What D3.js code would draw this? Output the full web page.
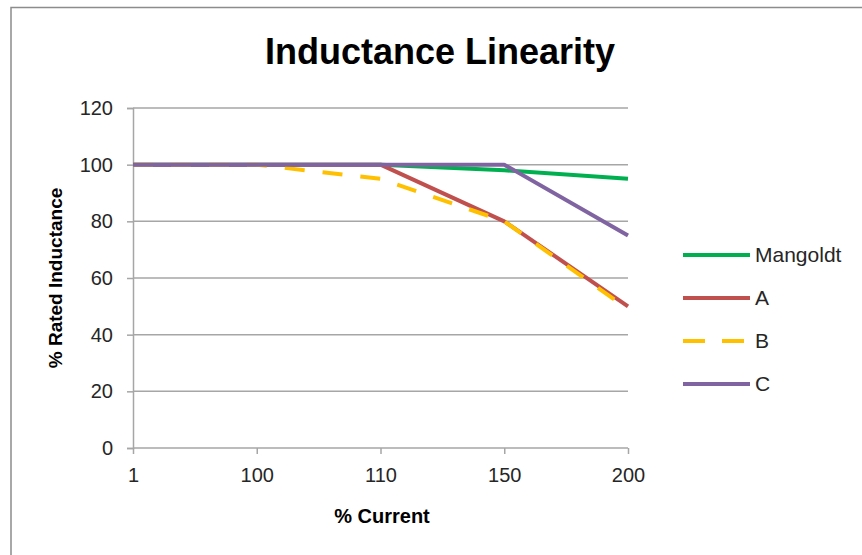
<!DOCTYPE html>
<html>
<head>
<meta charset="utf-8">
<script src="https://cdn.jsdelivr.net/npm/d3@7"></script>
<style>
  html, body { margin: 0; padding: 0; background: #fff; }
  svg { display: block; font-family: "Liberation Sans", Arial, sans-serif; }
</style>
</head>
<body>
<div id="chart"></div>
<script>
// data
const categories = ["1", "100", "110", "150", "200"];
const mangoldt = [100, 100, 100, 98, 95];
const seriesA = [100, 100, 100, 80, 50];
const seriesB = [100, 100, 95, 80, 49];
const seriesC = [100, 100, 100, 100, 75];
const yTicks = [0, 20, 40, 60, 80, 100, 120];

const series = [
  { name: "Mangoldt", values: mangoldt, color: "#00b050", dash: null },
  { name: "A", values: seriesA, color: "#c0504d", dash: null },
  { name: "B", values: seriesB, color: "#ffc000", dash: "20,18" },
  { name: "C", values: seriesC, color: "#8064a2", dash: null }
];

drawChart();

function drawChart () {
  const width = 862;
  const height = 555;
  const plot = { left: 133, right: 628, top: 108, bottom: 448 };

  const svg = d3.select("#chart")
    .append("svg")
      .attr("width", width)
      .attr("height", height);

  // outer chart frame
  svg.append("rect")
    .attr("x", 11)
    .attr("y", 7.5)
    .attr("width", width + 20)
    .attr("height", height + 20)
    .attr("fill", "none")
    .attr("stroke", "#8c8c8c")
    .attr("stroke-width", 1.5);

  const x = d3.scalePoint()
    .domain(categories)
    .range([plot.left, plot.right]);

  const y = d3.scaleLinear()
    .domain([0, 120])
    .range([plot.bottom, plot.top]);

  // gridlines
  svg.append("g")
    .selectAll("line")
    .data(yTicks.filter(d => d > 0))
    .enter().append("line")
      .attr("x1", plot.left)
      .attr("x2", plot.right)
      .attr("y1", d => y(d))
      .attr("y2", d => y(d))
      .attr("stroke", "#a6a6a6")
      .attr("stroke-width", 1.5);

  // y axis
  const yAxis = svg.append("g")
    .attr("transform", `translate(${plot.left},0)`)
    .call(d3.axisLeft(y).tickValues(yTicks).tickSize(6).tickPadding(14));

  // x axis
  const xAxis = svg.append("g")
    .attr("transform", `translate(0,${plot.bottom})`)
    .call(d3.axisBottom(x).tickSize(6).tickPadding(14));

  [yAxis, xAxis].forEach(axis => {
    axis.select(".domain").attr("stroke", "#a6a6a6").attr("stroke-width", 1.5);
    axis.selectAll(".tick line").attr("stroke", "#a6a6a6").attr("stroke-width", 1.5);
    axis.selectAll(".tick text")
      .attr("fill", "#262626")
      .style("font-size", "20px")
      .style("font-family", "'Liberation Sans', Arial, sans-serif");
  });
  xAxis.select(".domain").attr("d", `M${plot.left},0H${plot.right}`);
  xAxis.selectAll(".tick line").attr("y2", 6);

  // series lines
  const line = d3.line()
    .x((d, i) => x(categories[i]))
    .y(d => y(d));

  svg.append("g")
    .selectAll("path")
    .data(series)
    .enter().append("path")
      .attr("d", d => line(d.values))
      .attr("fill", "none")
      .attr("stroke", d => d.color)
      .attr("stroke-width", 4)
      .attr("stroke-linejoin", "round")
      .attr("stroke-dasharray", d => d.dash);

  // title
  svg.append("text")
    .attr("x", 440)
    .attr("y", 64)
    .attr("text-anchor", "middle")
    .attr("font-weight", "bold")
    .attr("font-size", 36)
    .attr("fill", "#000")
    .text("Inductance Linearity");

  // axis titles
  svg.append("text")
    .attr("transform", "translate(62,278) rotate(-90)")
    .attr("text-anchor", "middle")
    .attr("font-weight", "bold")
    .attr("font-size", 19)
    .attr("fill", "#000")
    .text("% Rated Inductance");

  svg.append("text")
    .attr("x", 382)
    .attr("y", 523)
    .attr("text-anchor", "middle")
    .attr("font-weight", "bold")
    .attr("font-size", 20)
    .attr("fill", "#000")
    .text("% Current");

  // legend
  const legend = svg.append("g")
    .selectAll("g")
    .data(series)
    .enter().append("g")
      .attr("transform", (d, i) => `translate(683,${255 + i * 43})`);

  legend.append("line")
    .attr("x1", 0)
    .attr("x2", d => d.dash ? 62 : 67)
    .attr("y1", 0)
    .attr("y2", 0)
    .attr("stroke", d => d.color)
    .attr("stroke-width", 4)
    .attr("stroke-dasharray", d => d.dash ? "22,17" : null);

  legend.append("text")
    .attr("x", 72)
    .attr("y", 0)
    .attr("dy", "0.35em")
    .attr("font-size", 21)
    .attr("fill", "#262626")
    .text(d => d.name);
}
</script>
</body>
</html>
